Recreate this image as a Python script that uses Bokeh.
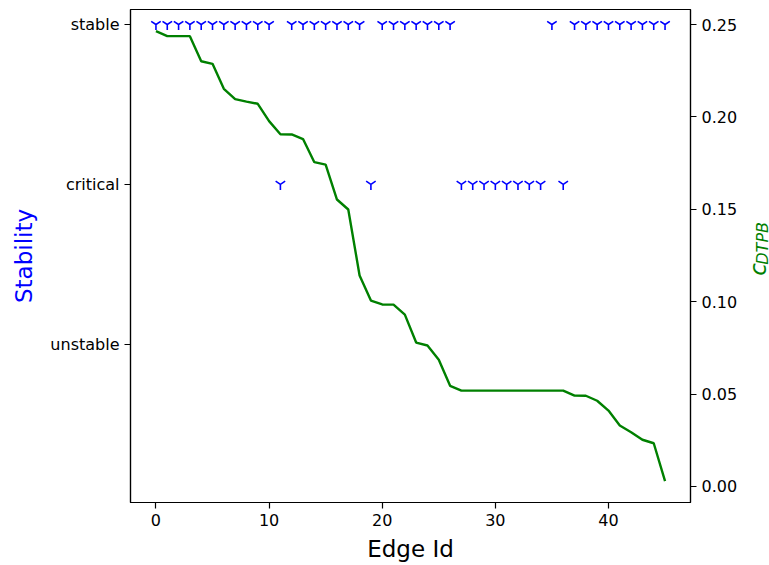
import math
from bokeh.plotting import figure
from bokeh.layouts import row
from bokeh.models import Range1d, LinearAxis, FixedTicker, NumeralTickFormatter
from bokeh.core.properties import value
from bokeh.embed import file_html
from bokeh.resources import INLINE

edge_id = list(range(46))
stability = (["stable"] * 11 + ["critical"] + ["stable"] * 7 + ["critical"]
             + ["stable"] * 7 + ["critical"] * 8 + ["stable"] + ["critical"]
             + ["stable"] * 9)
c_dtpb = [0.2464, 0.2437, 0.2437, 0.2437, 0.2301, 0.2287, 0.2152, 0.2096,
          0.2083, 0.2071, 0.1977, 0.1906, 0.1905, 0.1880, 0.1755, 0.1742,
          0.1553, 0.1499, 0.1142, 0.1006, 0.0985, 0.0984, 0.0930, 0.0779,
          0.0763, 0.0686, 0.0545, 0.0519, 0.0519, 0.0519, 0.0519, 0.0519,
          0.0519, 0.0519, 0.0519, 0.0519, 0.0519, 0.0492, 0.0491, 0.0464,
          0.0411, 0.0330, 0.0294, 0.0253, 0.0234, 0.0029]
categories = ["unstable", "critical", "stable"]
x_ticks = [0, 10, 20, 30, 40]
c_ticks = [0.00, 0.05, 0.10, 0.15, 0.20, 0.25]

cat_pos = {c: i for i, c in enumerate(categories)}
stab_num = [cat_pos[s] for s in stability]

FONT = "DejaVu Sans"

p = figure(width=745, height=565, output_backend="svg", toolbar_location=None,
           x_range=Range1d(-2.25, 47.25), y_range=Range1d(-0.99, 2.094),
           min_border_left=130, min_border_right=55, min_border_top=9,
           min_border_bottom=63)
p.extra_y_ranges = {"c": Range1d(-0.00866, 0.25812)}
p.grid.visible = False
p.outline_line_color = "black"
p.outline_line_width = 1.2
p.background_fill_color = "white"
p.border_fill_color = "white"

def style_axis(ax):
    ax.axis_line_color = "black"
    ax.axis_line_width = 1.2
    ax.major_tick_line_color = "black"
    ax.major_tick_line_width = 1.2
    ax.major_tick_out = 6
    ax.major_tick_in = 0
    ax.minor_tick_line_color = None
    ax.major_label_text_font = FONT
    ax.major_label_text_font_size = "16px"
    ax.major_label_text_color = "black"
    ax.axis_label_text_font = FONT
    ax.axis_label_text_font_size = "23px"
    ax.axis_label_text_font_style = "normal"
    ax.axis_label_text_color = "black"
    ax.major_label_standoff = 5

xa = p.xaxis[0]
style_axis(xa)
xa.ticker = FixedTicker(ticks=x_ticks)
xa.axis_label = "Edge Id"
xa.axis_label_standoff = 7

ya = p.yaxis[0]
style_axis(ya)
ya.ticker = FixedTicker(ticks=list(range(len(categories))))
ya.major_label_overrides = {i: c for i, c in enumerate(categories)}
ya.axis_label = "Stability"
ya.axis_label_text_color = "blue"
ya.axis_label_standoff = 10

ra = LinearAxis(y_range_name="c", ticker=FixedTicker(ticks=c_ticks),
                formatter=NumeralTickFormatter(format="0.00"))
style_axis(ra)
p.add_layout(ra, "right")

p.scatter(edge_id, stab_num, marker="y", size=11, line_color="blue",
          line_width=1.6)
p.line(edge_id, c_dtpb, line_color="green", line_width=2.4, y_range_name="c")

# narrow strip on the right carrying the right-axis title  c_DTPB
q = figure(width=24, height=565, output_backend="svg", toolbar_location=None,
           x_range=Range1d(0, 24), y_range=Range1d(565, 0),
           x_axis_type=None, y_axis_type=None,
           min_border_left=0, min_border_right=0, min_border_top=0,
           min_border_bottom=0)
q.title.visible = False
q.grid.visible = False
q.outline_line_color = None
q.background_fill_color = "white"
q.border_fill_color = "white"
q.text(x=[12.5], y=[298], text=["c"], angle=math.pi / 2,
       text_font=value(FONT), text_font_style="italic",
       text_font_size="23px", text_color="green",
       text_align="center", text_baseline="middle")
q.text(x=[17.0], y=[268], text=["DTPB"], angle=math.pi / 2,
       text_font=value(FONT), text_font_style="italic",
       text_font_size="16px", text_color="green",
       text_align="center", text_baseline="middle")

layout = row(p, q)
open("out.html", "w").write(file_html(layout, INLINE))
